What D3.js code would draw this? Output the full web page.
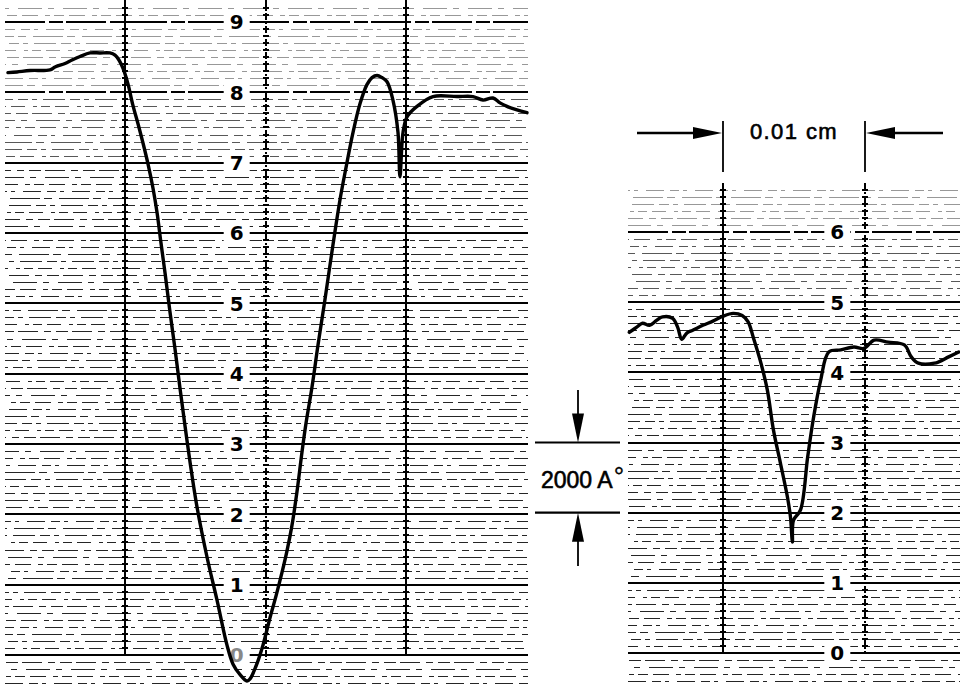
<!DOCTYPE html>
<html><head><meta charset="utf-8">
<script src="https://cdn.jsdelivr.net/npm/d3@7"></script>
<style>body{margin:0;background:#fff}svg{display:block}</style>
</head><body>
<svg id="c" width="960" height="688"></svg>
<script>
// ---- data ----
const leftTickLabels = [0,1,2,3,4,5,6,7,8,9];
const rightTickLabels = [0,1,2,3,4,5,6];
const leftVerticals = [100,200,300];   // position along scan (µm)
const rightVerticals = [100,200];
const scaleBarText = "0.01 cm";
const heightBarText = "2000 A";
// left trace: [position µm, height (thousand Å)]
const leftTrace = [
 [16.7,8.28],[23.1,8.29],[32.4,8.31],[46.6,8.32],[50.2,8.36],[57.3,8.41],[62.3,8.46],[68.0,8.51],
 [75.1,8.56],[82.2,8.56],[89.3,8.56],[92.9,8.53],[95.7,8.46],[98.6,8.34],[102.1,8.12],[105.7,7.81],
 [109.3,7.55],[112.8,7.28],[116.4,6.98],[119.9,6.64],[122.8,6.29],[125.6,5.86],[128.5,5.43],[132.0,4.88],
 [135.6,4.35],[139.1,3.80],[142.7,3.26],[146.3,2.74],[151.2,2.11],[158.4,1.39],[165.5,0.78],
 [172.6,0.14],[176.9,-0.13],[181.9,-0.28],[186.8,-0.37],[189.0,-0.34],[193.2,-0.16],[198.2,0.14],
 [203.2,0.53],[207.5,0.84],[211.7,1.17],[215.3,1.48],[218.9,1.85],[222.4,2.32],[226.0,2.89],
 [228.8,3.29],[233.1,3.81],[237.4,4.41],[242.3,5.05],[248.0,5.83],[253.0,6.47],[257.3,6.93],
 [262.3,7.43],[267.3,7.84],[272.2,8.11],[275.8,8.21],[279.4,8.24],[282.9,8.21],[286.5,8.15],
 [290.7,7.89],[294.3,7.43],[295.7,6.80],[297.9,7.43],[300.7,7.65],[307.8,7.80],[319.2,7.94],
 [336.3,7.94],[347.7,7.94],[354.8,7.89],[361.9,7.92],[366.9,7.85],[371.9,7.80],[379.0,7.75],[386.1,7.71]
];
// right trace
const rightTrace = [
 [34.0,4.57],[39.0,4.64],[43.3,4.70],[48.2,4.67],[53.2,4.74],[57.4,4.79],[64.5,4.77],[68.1,4.64],
 [70.9,4.47],[74.5,4.56],[78.7,4.60],[85.8,4.67],[92.9,4.73],[100,4.80],[107.1,4.84],[113.5,4.81],
 [117.7,4.72],[121.3,4.50],[126.2,4.17],[131.2,3.75],[135.5,3.18],[140.4,2.71],[145.4,2.22],
 [147.5,1.94],[148.9,1.58],[149.6,1.89],[154.6,2.04],[159.6,2.79],[163.8,3.36],[168.8,3.89],
 [174.5,4.29],[183.0,4.32],[192.2,4.36],[199.3,4.34],[206.4,4.46],[216.3,4.43],[227.7,4.39],
 [232.6,4.22],[237.6,4.13],[248.9,4.13],[258.9,4.22],[266.0,4.29]
];

// ---- layout ----
const svg = d3.select("#c");
const xL = d3.scaleLinear().domain([100,300]).range([125,406]);
const yL = d3.scaleLinear().domain([0,9]).range([655,22]);
const xR = d3.scaleLinear().domain([100,200]).range([723,865]);
const yR = d3.scaleLinear().domain([0,6]).range([653,232]);

const dashPatterns = ["18 6 9 4 4 8","10 5 16 7 5 4","24 6 6 9","7 5 12 4 20 6","14 8 4 4 9 5","5 6 22 5 10 4","30 4 8 7"];
const FONT = "Liberation Sans, Arial, Helvetica, sans-serif";

function panel(g, x, y, cfg){
  const x0 = cfg.left, x1 = cfg.right;
  const minor = d3.range(Math.round(cfg.vmin*10), Math.round(cfg.vmax*10)+1).map(d=>d/10);
  const ry = v => Math.round(y(v)) + 0.5;
  // minor horizontal lines
  g.selectAll(".minor").data(minor.filter(v=>Math.abs(v-Math.round(v))>1e-6)).join("line")
    .attr("x1",x0).attr("x2",x1).attr("y1",ry).attr("y2",ry)
    .attr("stroke","#000").attr("stroke-width",1).attr("shape-rendering","crispEdges")
    .attr("opacity",v=> v>cfg.fadeAbove ? 0.4 : (v>cfg.fadeAbove-1 ? 0.65 : 0.85))
    .attr("stroke-dasharray",(v,i)=>dashPatterns[i%dashPatterns.length])
    .attr("stroke-dashoffset",(v,i)=>(i*37)%50);
  // major lines
  const majors = minor.filter(v=>Math.abs(v-Math.round(v))<1e-6);
  g.selectAll(".major").data(majors).join("line")
    .attr("x1",x0).attr("x2",x1).attr("y1",v=>Math.round(y(v))).attr("y2",v=>Math.round(y(v)))
    .attr("stroke","#000").attr("stroke-width",2).attr("shape-rendering","crispEdges")
    .attr("stroke-dasharray",(v,i)=> v>cfg.fadeAbove-0.5 ? "40 4 14 3" : null);
  // verticals
  cfg.verticals.forEach(vx=>{
    const dashed = cfg.dashed.includes(vx);
    const xx = Math.round(x(vx));
    g.append("line").attr("x1",xx).attr("x2",xx)
      .attr("y1",cfg.vTop).attr("y2",dashed? cfg.vBottomDashed : y(0))
      .attr("stroke","#000").attr("stroke-width",2).attr("shape-rendering","crispEdges")
      .attr("stroke-dasharray",dashed?"7 2 2 2":null);
    g.selectAll(null).data(minor.filter(v=>v>=0 && y(v)>cfg.vTop)).join("line")
      .attr("x1",xx-3).attr("x2",xx+3).attr("y1",v=>Math.round(y(v))).attr("y2",v=>Math.round(y(v)))
      .attr("stroke","#000").attr("stroke-width",2).attr("shape-rendering","crispEdges");
  });
  // tick labels
  const lab = g.selectAll(".lab").data(cfg.labels).join("g")
    .attr("transform",v=>`translate(${x(cfg.labelAt)},${y(v)})`);
  lab.append("rect").attr("x",-13).attr("y",-11).attr("width",26).attr("height",22).attr("fill","#fff");
  lab.append("text").text(v=>v).attr("text-anchor","middle").attr("dy","0.37em")
    .attr("font-family","DejaVu Sans, sans-serif").attr("font-weight","bold")
    .attr("font-size",20).attr("fill",v=> (v===0 && cfg.faintZero)?"#888":"#000");
  // trace
  g.append("path").datum(cfg.trace)
    .attr("d",d3.line().x(d=>x(d[0])).y(d=>y(d[1])).curve(d3.curveCatmullRom.alpha(0.5)))
    .attr("fill","none").attr("stroke","#000").attr("stroke-width",3.4)
    .attr("stroke-linejoin","round").attr("stroke-linecap","round");
}

panel(svg.append("g"), xL, yL, {
  left:5, right:528, vmin:-0.4, vmax:9.2, fadeAbove:8.0,
  verticals:leftVerticals, dashed:[200], vTop:0, vBottomDashed:660,
  labels:leftTickLabels, labelAt:179.5, faintZero:true, trace:leftTrace
});
panel(svg.append("g"), xR, yR, {
  left:628, right:960, vmin:-0.4, vmax:6.6, fadeAbove:6.0,
  verticals:rightVerticals, dashed:[200], vTop:183, vBottomDashed:653,
  labels:rightTickLabels, labelAt:180.5, faintZero:false, trace:rightTrace
});

// ---- annotations ----
const ann = svg.append("g").attr("fill","#000").attr("stroke","#000");
const ya = 133;
[xR(100), xR(200)].forEach(xx=>{
  ann.append("line").attr("x1",xx).attr("x2",xx).attr("y1",121).attr("y2",172).attr("stroke-width",1.8);
});
ann.append("line").attr("x1",637).attr("x2",xR(100)-20).attr("y1",ya).attr("y2",ya).attr("stroke-width",2.4);
ann.append("path").attr("d",`M${xR(100)-1},${ya} L${xR(100)-30},${ya-6} L${xR(100)-30},${ya+6} Z`).attr("stroke","none");
ann.append("line").attr("x1",943).attr("x2",xR(200)+20).attr("y1",ya).attr("y2",ya).attr("stroke-width",2.4);
ann.append("path").attr("d",`M${xR(200)+1},${ya} L${xR(200)+30},${ya-6} L${xR(200)+30},${ya+6} Z`).attr("stroke","none");
ann.append("text").text(scaleBarText).attr("x",(xR(100)+xR(200))/2).attr("y",139)
  .attr("text-anchor","middle").attr("stroke-width",0.6)
  .attr("font-family",FONT).attr("font-size",22).attr("letter-spacing",1.4);

// height bar
const yTop = yR(3), yBot = yR(2), xa = 578;
[yTop,yBot].forEach(yy=>{
  ann.append("line").attr("x1",535).attr("x2",620).attr("y1",yy).attr("y2",yy).attr("stroke-width",2.2);
});
ann.append("line").attr("x1",xa).attr("x2",xa).attr("y1",390).attr("y2",yTop-20).attr("stroke-width",1.8);
ann.append("path").attr("d",`M${xa},${yTop} L${xa-6},${yTop-29} L${xa+6},${yTop-29} Z`).attr("stroke","none");
ann.append("line").attr("x1",xa).attr("x2",xa).attr("y1",566).attr("y2",yBot+20).attr("stroke-width",1.8);
ann.append("path").attr("d",`M${xa},${yBot} L${xa-6},${yBot+29} L${xa+6},${yBot+29} Z`).attr("stroke","none");
const t = ann.append("text").attr("x",541).attr("y",488).attr("stroke-width",0.6)
  .attr("font-family",FONT).attr("font-size",23);
t.append("tspan").text(heightBarText);
t.append("tspan").text("°").attr("dy",-3).attr("dx",1).attr("font-size",26).attr("stroke-width",0.3);
</script>
</body></html>
